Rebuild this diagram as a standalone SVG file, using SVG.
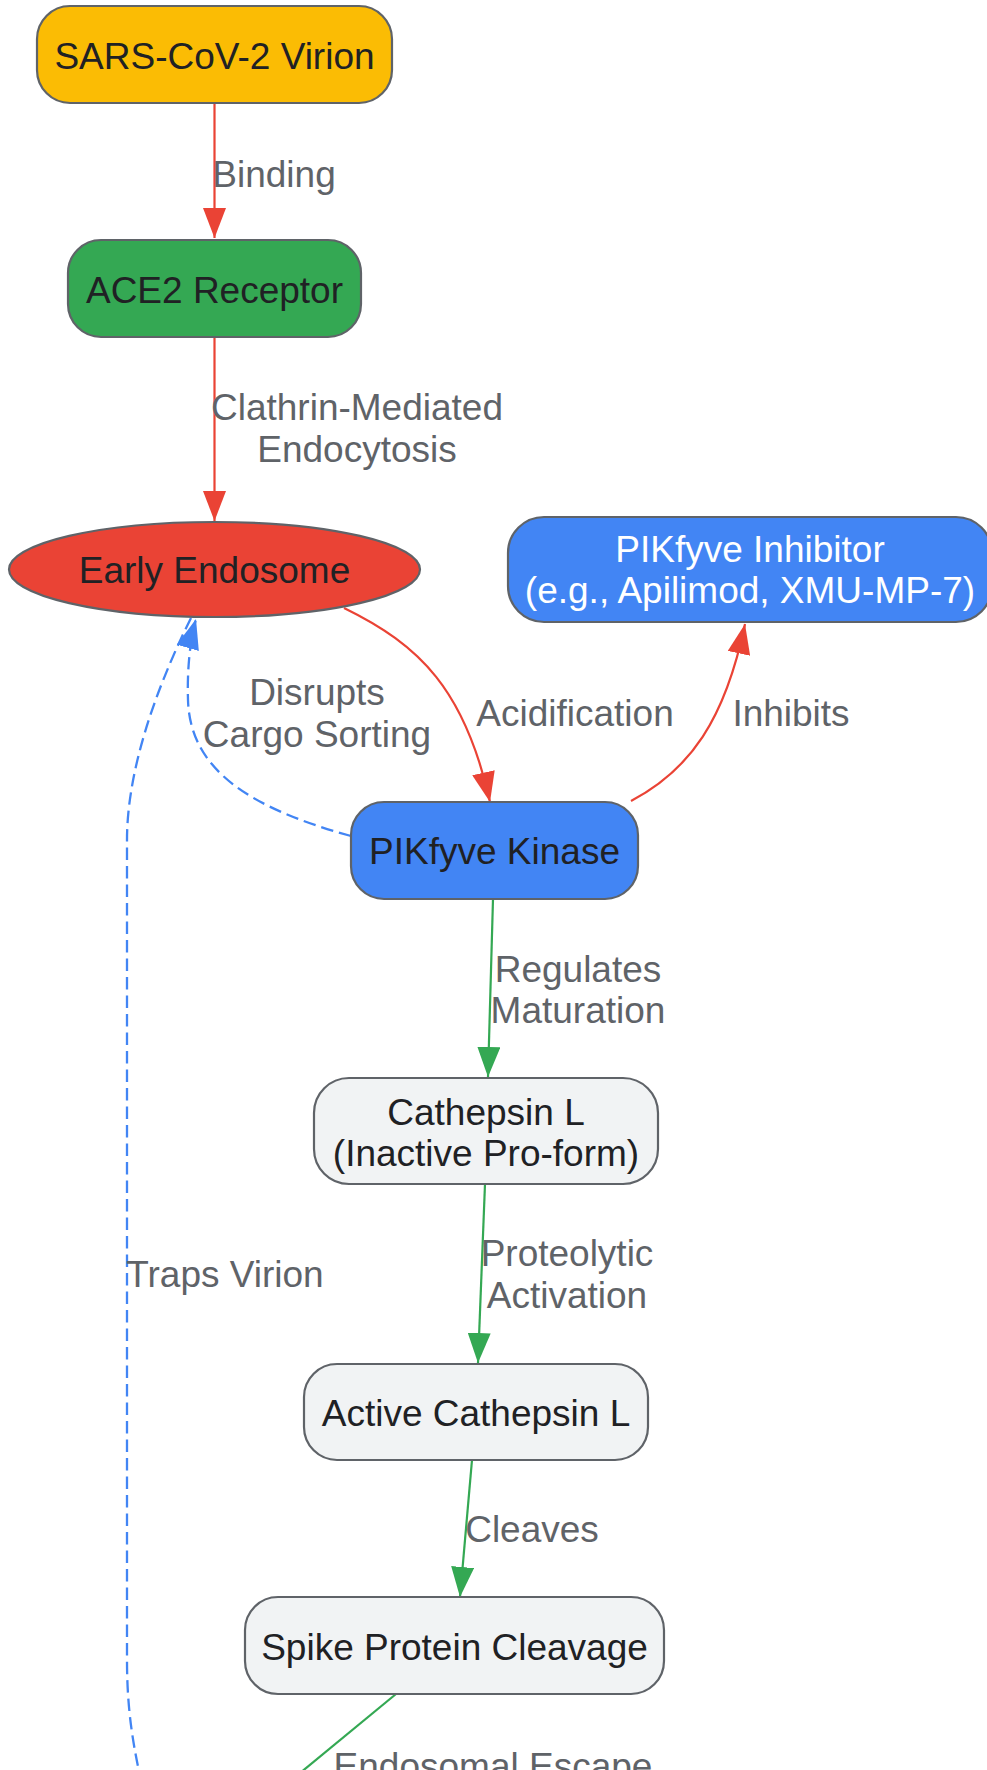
<svg xmlns="http://www.w3.org/2000/svg" width="987" height="1770" viewBox="0 0 987 1770">
<style>
  .node rect, .node ellipse { stroke: #5f6368; stroke-width: 2.2; }
  .nt { font-family: "Liberation Sans", Arial, sans-serif; font-size: 37px; fill: #202124; text-anchor: middle; }
  .wt { fill: #ffffff; }
  .lbl { font-family: "Liberation Sans", Arial, sans-serif; font-size: 37px; fill: #5f6368; text-anchor: middle; }
  .e { fill: none; stroke-width: 2.2; }
  .red { stroke: #ea4335; }
  .green { stroke: #34a853; }
  .blue { stroke: #4285f4; stroke-width: 2.3; stroke-dasharray: 12.5 6; }
  .gray { fill: #f1f3f4; }
</style>
<defs>
  <marker id="ar" markerUnits="userSpaceOnUse" viewBox="0 0 30 23" refX="30" refY="11.5" markerWidth="30" markerHeight="23" orient="auto"><path d="M0,0 L30,11.5 L0,23 z" fill="#ea4335"/></marker>
  <marker id="ag" markerUnits="userSpaceOnUse" viewBox="0 0 30 23" refX="30" refY="11.5" markerWidth="30" markerHeight="23" orient="auto"><path d="M0,0 L30,11.5 L0,23 z" fill="#34a853"/></marker>
  <marker id="ab" markerUnits="userSpaceOnUse" viewBox="0 0 30 23" refX="30" refY="11.5" markerWidth="30" markerHeight="23" orient="auto"><path d="M0,0 L30,11.5 L0,23 z" fill="#4285f4"/></marker>
</defs>
<rect width="987" height="1770" fill="#ffffff"/>

<g id="edges">
  <path class="e red" d="M214.5,103 L214.5,238" marker-end="url(#ar)"/>
  <path class="e red" d="M214.5,337 L214.5,521" marker-end="url(#ar)"/>
  <path class="e red" d="M344,608 C420,645 465,690 490,802" marker-end="url(#ar)"/>
  <path class="e red" d="M631,801 C690,770 725,720 745,624" marker-end="url(#ar)"/>
  <path class="e blue" d="M351,836 C250,808 190,770 188,700 C187,670 190,640 196,619" marker-end="url(#ab)"/>
  <path class="e blue" d="M191,618 C165,670 127,760 127,840 L127,1660 C127,1710 133,1745 142,1785"/>
  <path class="e green" d="M493,899 L488,1077" marker-end="url(#ag)"/>
  <path class="e green" d="M485,1184 L478,1363" marker-end="url(#ag)"/>
  <path class="e green" d="M472,1460 L460,1597" marker-end="url(#ag)"/>
  <path class="e green" d="M396,1694 L294,1778"/>
</g>

<g id="edge-labels">
  <text class="lbl" x="274" y="187">Binding</text>
  <text class="lbl" x="357" y="420">Clathrin-Mediated</text>
  <text class="lbl" x="357" y="462">Endocytosis</text>
  <text class="lbl" x="317" y="705">Disrupts</text>
  <text class="lbl" x="317" y="747">Cargo Sorting</text>
  <text class="lbl" x="575" y="726">Acidification</text>
  <text class="lbl" x="791" y="726">Inhibits</text>
  <text class="lbl" x="578" y="982">Regulates</text>
  <text class="lbl" x="578" y="1023">Maturation</text>
  <text class="lbl" x="225" y="1287">Traps Virion</text>
  <text class="lbl" x="567" y="1266">Proteolytic</text>
  <text class="lbl" x="567" y="1308">Activation</text>
  <text class="lbl" x="532" y="1542">Cleaves</text>
  <text class="lbl" x="493" y="1779">Endosomal Escape</text>
</g>

<g id="sars" class="node">
  <rect x="37" y="6" width="355" height="97" rx="33" fill="#fbbc04"/>
  <text class="nt" x="214.5" y="69">SARS-CoV-2 Virion</text>
</g>
<g id="ace2" class="node">
  <rect x="68" y="240" width="293" height="97" rx="33" fill="#34a853"/>
  <text class="nt" x="214.5" y="303">ACE2 Receptor</text>
</g>
<g id="endosome" class="node">
  <ellipse cx="214.5" cy="569.5" rx="205.5" ry="47.5" fill="#ea4335"/>
  <text class="nt" x="214.5" y="583">Early Endosome</text>
</g>
<g id="inhibitor" class="node">
  <rect x="508" y="517" width="484" height="105" rx="36" fill="#4285f4"/>
  <text class="nt wt" x="750" y="562">PIKfyve Inhibitor</text>
  <text class="nt wt" x="750" y="603">(e.g., Apilimod, XMU-MP-7)</text>
</g>
<g id="kinase" class="node">
  <rect x="351" y="802" width="287" height="97" rx="33" fill="#4285f4"/>
  <text class="nt" x="494.5" y="864">PIKfyve Kinase</text>
</g>
<g id="procathepsin" class="node">
  <rect x="314" y="1078" width="344" height="106" rx="35" class="gray"/>
  <text class="nt" x="486" y="1125">Cathepsin L</text>
  <text class="nt" x="486" y="1166">(Inactive Pro-form)</text>
</g>
<g id="activecathepsin" class="node">
  <rect x="304" y="1364" width="344" height="96" rx="33" class="gray"/>
  <text class="nt" x="476" y="1426">Active Cathepsin L</text>
</g>
<g id="spike" class="node">
  <rect x="245" y="1597" width="419" height="97" rx="33" class="gray"/>
  <text class="nt" x="454.5" y="1660">Spike Protein Cleavage</text>
</g>
</svg>
